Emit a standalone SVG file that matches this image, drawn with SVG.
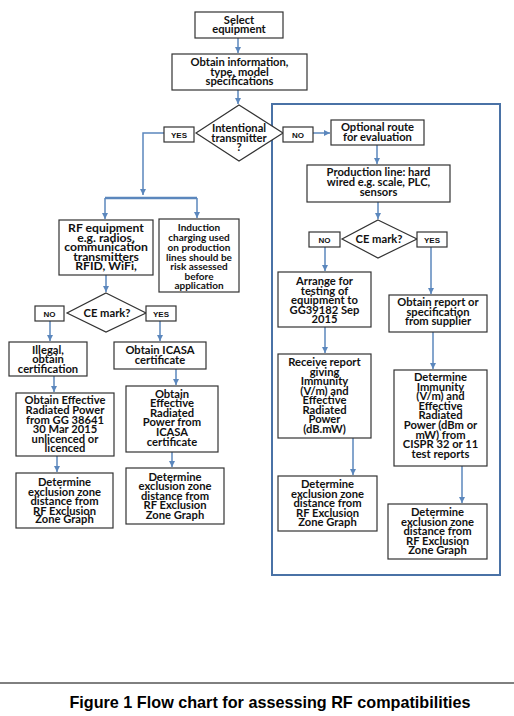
<svg xmlns="http://www.w3.org/2000/svg" width="514" height="716" viewBox="0 0 514 716">
<defs>
<marker id="ah" markerUnits="userSpaceOnUse" markerWidth="6" markerHeight="6" refX="6" refY="3" orient="auto">
<path d="M0,0 L6,3 L0,6 z" fill="#5b87bd"/>
</marker>
<style>
.box{fill:#fff;stroke:#333;stroke-width:1.2}
.t{font-family:Lato,"Open Sans","Liberation Sans",sans-serif;font-weight:bold;font-size:11.2px;fill:#111;text-anchor:middle}
.s{font-size:10px}
.b{font-size:12.2px}
.lb{font-family:"Liberation Sans",Arial,sans-serif;font-weight:bold;font-size:8px;fill:#111;text-anchor:middle}
.c{fill:none;stroke:#5b87bd;stroke-width:1.5}
.ca{fill:none;stroke:#5b87bd;stroke-width:1.5;marker-end:url(#ah)}
</style>
</defs>
<rect width="514" height="716" fill="#fff"/>
<rect id="optional-region" x="272" y="104" width="228" height="471" fill="none" stroke="#4a72a6" stroke-width="2"/>
<g id="connectors">
<path class="ca" d="M238,38 V53"/>
<path class="ca" d="M238,90 V104"/>
<path class="ca" d="M164,133 H143 V195"/>
<path d="M105,198 H197" fill="none" stroke="#5b87bd" stroke-width="2.5"/>
<path class="ca" d="M105,198 V219"/>
<path class="ca" d="M197,198 V218"/>
<path class="ca" d="M313,133 H330"/>
<path class="ca" d="M377,145 V164"/>
<path class="ca" d="M378,202 V219"/>
<path class="ca" d="M106,275 V292"/>
<path class="ca" d="M50,321 V341"/>
<path class="ca" d="M160,321 V341"/>
<path class="ca" d="M54,376 V392"/>
<path class="ca" d="M176,369 V385"/>
<path class="ca" d="M57,456 V472"/>
<path class="ca" d="M172,452 V467"/>
<path class="ca" d="M325,247 V271"/>
<path class="ca" d="M431,247 V294"/>
<path class="ca" d="M325,327 V353"/>
<path class="ca" d="M433,332 V369"/>
<path class="ca" d="M353,438 V475"/>
<path class="ca" d="M462,466 V503"/>
</g>
<g id="select">
<rect class="box" x="195" y="12" width="88" height="26"/>
<text class="t"><tspan x="239" y="23.5">Select</tspan><tspan x="239" y="33">equipment</tspan></text>
</g>
<g id="obtain-info">
<rect class="box" x="172" y="54" width="135" height="36"/>
<text class="t"><tspan x="239.5" y="66">Obtain information,</tspan><tspan x="239.5" y="75.5">type, model</tspan><tspan x="239.5" y="85">specifications</tspan></text>
</g>
<g id="intentional">
<polygon class="box" points="239,105 283,133 239,161 196,133"/>
<text class="t"><tspan x="239" y="132">Intentional</tspan><tspan x="239" y="141.5">transmitter</tspan><tspan x="239" y="151">?</tspan></text>
</g>
<g id="yes1">
<rect class="box" x="164" y="127" width="30" height="15"/>
<text class="lb" x="179" y="137.5">YES</text>
</g>
<g id="no1">
<rect class="box" x="283" y="127" width="30" height="15"/>
<text class="lb" x="298" y="137.5">NO</text>
</g>
<g id="optional">
<rect class="box" x="331" y="120" width="93" height="25"/>
<text class="t"><tspan x="377.5" y="131">Optional route</tspan><tspan x="377.5" y="141">for evaluation</tspan></text>
</g>
<g id="production">
<rect class="box" x="307" y="165" width="143" height="37"/>
<text class="t"><tspan x="378.5" y="176">Production line: hard</tspan><tspan x="378.5" y="186">wired e.g. scale, PLC,</tspan><tspan x="378.5" y="196">sensors</tspan></text>
</g>
<g id="ce-right">
<polygon class="box" points="378,220 417,239 378,258 342,239"/>
<text class="t" x="379" y="243">CE mark?</text>
</g>
<g id="no-right">
<rect class="box" x="309" y="232" width="31" height="15"/>
<text class="lb" x="324.5" y="242.5">NO</text>
</g>
<g id="yes-right">
<rect class="box" x="417" y="232" width="30" height="15"/>
<text class="lb" x="432" y="242.5">YES</text>
</g>
<g id="arrange">
<rect class="box" x="278" y="272" width="93" height="55"/>
<text class="t"><tspan x="324.5" y="285">Arrange for</tspan><tspan x="324.5" y="294.5">testing of</tspan><tspan x="324.5" y="304">equipment to</tspan><tspan x="324.5" y="313.5">GG39182 Sep</tspan><tspan x="324.5" y="323">2015</tspan></text>
</g>
<g id="obtain-report">
<rect class="box" x="389" y="295" width="98" height="37"/>
<text class="t"><tspan x="438" y="306">Obtain report or</tspan><tspan x="438" y="316">specification</tspan><tspan x="438" y="325">from supplier</tspan></text>
</g>
<g id="receive">
<rect class="box" x="278" y="354" width="93" height="84"/>
<text class="t"><tspan x="324.5" y="366">Receive report</tspan><tspan x="324.5" y="375.5">giving</tspan><tspan x="324.5" y="385">Immunity</tspan><tspan x="324.5" y="395">(V/m) and</tspan><tspan x="324.5" y="404">Effective</tspan><tspan x="324.5" y="414">Radiated</tspan><tspan x="324.5" y="423">Power</tspan><tspan x="324.5" y="433">(dB.mW)</tspan></text>
</g>
<g id="determine-immunity">
<rect class="box" x="394" y="370" width="93" height="96"/>
<text class="t"><tspan x="440.5" y="381">Determine</tspan><tspan x="440.5" y="391">Immunity</tspan><tspan x="440.5" y="400">(V/m) and</tspan><tspan x="440.5" y="410">Effective</tspan><tspan x="440.5" y="419">Radiated</tspan><tspan x="440.5" y="429">Power (dBm or</tspan><tspan x="440.5" y="439">mW) from</tspan><tspan x="440.5" y="448">CISPR 32 or 11</tspan><tspan x="440.5" y="458">test reports</tspan></text>
</g>
<g id="determine-r1">
<rect class="box" x="278" y="476" width="99" height="55"/>
<text class="t"><tspan x="327.5" y="488">Determine</tspan><tspan x="327.5" y="498">exclusion zone</tspan><tspan x="327.5" y="507">distance from</tspan><tspan x="327.5" y="517">RF Exclusion</tspan><tspan x="327.5" y="526">Zone Graph</tspan></text>
</g>
<g id="determine-r2">
<rect class="box" x="388" y="504" width="99" height="55"/>
<text class="t"><tspan x="437.5" y="516">Determine</tspan><tspan x="437.5" y="526">exclusion zone</tspan><tspan x="437.5" y="535">distance from</tspan><tspan x="437.5" y="545">RF Exclusion</tspan><tspan x="437.5" y="554">Zone Graph</tspan></text>
</g>
<g id="rf-equipment">
<rect class="box" x="59" y="220" width="94" height="55"/>
<text class="t b"><tspan x="106" y="232">RF equipment</tspan><tspan x="106" y="242">e.g. radios,</tspan><tspan x="106" y="251">communication</tspan><tspan x="106" y="261">transmitters</tspan><tspan x="106" y="270">RFID, WiFi,</tspan></text>
</g>
<g id="induction">
<rect class="box" x="159" y="219" width="80" height="73"/>
<text class="t s"><tspan x="199" y="230.5">Induction</tspan><tspan x="199" y="240.5">charging used</tspan><tspan x="199" y="250.5">on production</tspan><tspan x="199" y="260.5">lines should be</tspan><tspan x="199" y="269.5">risk assessed</tspan><tspan x="199" y="279.5">before</tspan><tspan x="199" y="288.5">application</tspan></text>
</g>
<g id="ce-left">
<polygon class="box" points="106,293 146,313 106,332 67,313"/>
<text class="t" x="107" y="317">CE mark?</text>
</g>
<g id="no-left">
<rect class="box" x="35" y="306" width="29" height="15"/>
<text class="lb" x="49.5" y="316.5">NO</text>
</g>
<g id="yes-left">
<rect class="box" x="146" y="306" width="30" height="15"/>
<text class="lb" x="161" y="316.5">YES</text>
</g>
<g id="illegal">
<rect class="box" x="9" y="342" width="78" height="34"/>
<text class="t"><tspan x="48" y="354">Illegal,</tspan><tspan x="48" y="363">obtain</tspan><tspan x="48" y="373">certification</tspan></text>
</g>
<g id="obtain-icasa">
<rect class="box" x="114" y="342" width="92" height="27"/>
<text class="t"><tspan x="160" y="354">Obtain ICASA</tspan><tspan x="160" y="364">certificate</tspan></text>
</g>
<g id="obtain-erp-gg">
<rect class="box" x="16" y="393" width="98" height="63"/>
<text class="t"><tspan x="65" y="404">Obtain Effective</tspan><tspan x="65" y="414">Radiated Power</tspan><tspan x="65" y="424">from GG 38641</tspan><tspan x="65" y="433">30 Mar 2015</tspan><tspan x="65" y="443">unlicenced or</tspan><tspan x="65" y="452">licenced</tspan></text>
</g>
<g id="obtain-erp-icasa">
<rect class="box" x="126" y="386" width="92" height="66"/>
<text class="t"><tspan x="172" y="398">Obtain</tspan><tspan x="172" y="407">Effective</tspan><tspan x="172" y="417">Radiated</tspan><tspan x="172" y="426">Power from</tspan><tspan x="172" y="436">ICASA</tspan><tspan x="172" y="446">certificate</tspan></text>
</g>
<g id="determine-l1">
<rect class="box" x="16" y="473" width="97" height="55"/>
<text class="t"><tspan x="64.5" y="486">Determine</tspan><tspan x="64.5" y="496">exclusion zone</tspan><tspan x="64.5" y="505">distance from</tspan><tspan x="64.5" y="515">RF Exclusion</tspan><tspan x="64.5" y="523">Zone Graph</tspan></text>
</g>
<g id="determine-l2">
<rect class="box" x="126" y="468" width="98" height="56"/>
<text class="t"><tspan x="175" y="481">Determine</tspan><tspan x="175" y="490">exclusion zone</tspan><tspan x="175" y="500">distance from</tspan><tspan x="175" y="509">RF Exclusion</tspan><tspan x="175" y="519">Zone Graph</tspan></text>
</g>
<line x1="0" y1="683" x2="514" y2="683" stroke="#000" stroke-width="1"/>
<text x="270" y="708" font-family="'Liberation Sans',Arial,sans-serif" font-weight="bold" font-size="16.2" text-anchor="middle" fill="#000">Figure 1 Flow chart for assessing RF compatibilities</text>
</svg>
